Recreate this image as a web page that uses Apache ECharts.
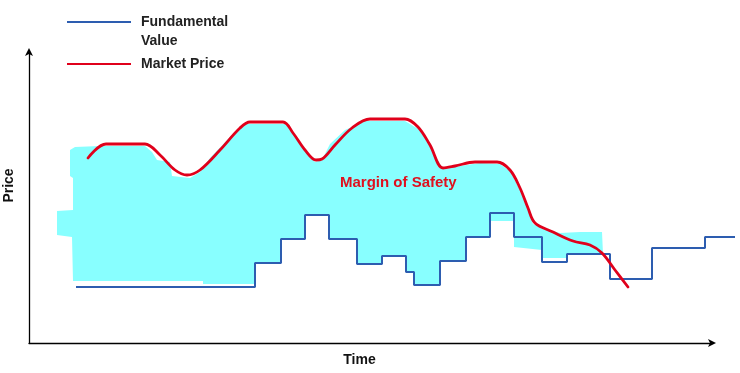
<!DOCTYPE html>
<html>
<head>
<meta charset="utf-8">
<script src="https://cdn.jsdelivr.net/npm/echarts@6/dist/echarts.min.js"></script>
<style>
html,body{margin:0;padding:0;background:#fff;}
#chart{width:740px;height:373px;}
</style>
</head>
<body>
<div id="chart"></div>
<script>
// Fundamental value: step levels [time, price] (each point starts a level)
var fundamentalTime  = [47, 226, 252, 276, 300, 328, 353, 377, 385, 411, 437, 461, 485, 513, 538, 581, 623, 676, 706];
var fundamentalPrice = [56, 80, 104, 128, 104, 79, 87, 71, 58, 82, 106, 130, 106, 81, 89, 64, 95, 106, 106];

// Market price: smooth curve
var marketTime  = [59, 77, 116, 131, 146, 158, 171, 191, 211, 221, 254, 264, 276, 287, 293, 306, 323, 341, 376, 389, 401, 414, 426, 446, 468, 481, 491, 499, 506, 524, 544, 561, 573, 586, 599];
var marketPrice = [185, 199, 199, 188, 173, 168, 173, 193, 215, 221, 221, 210, 193, 183, 184, 198, 215, 224, 224, 216, 198, 175, 177, 181, 181, 173, 155, 135, 120, 111, 102, 98, 90, 73, 56];

// Margin of safety shaded region outline
var marginTime  = [41, 46, 71, 116, 123, 128, 141, 143, 161, 171, 181, 201, 216, 256, 266, 276, 286, 293, 301, 316, 336, 376, 391, 403, 414, 431, 451, 471, 481, 491, 499, 504, 516, 531, 551, 573, 574,
                   538, 538, 513, 513, 485, 485, 461, 461, 437, 437, 411, 411, 385, 385, 377, 377, 353, 353, 328, 328, 300, 300, 276, 276, 252, 252, 226, 226, 174, 174, 44, 43, 28, 28, 44, 44, 41];
var marginPrice = [193, 196, 197, 197, 191, 183, 181, 167, 165, 171, 185, 206, 219, 219, 208, 193, 181, 183, 199, 213, 222, 222, 213, 193, 174, 177, 180, 179, 172, 153, 133, 119, 114, 110, 111, 111, 89,
                   89, 85, 85, 93, 96, 122, 122, 106, 106, 82, 82, 58, 58, 71, 71, 87, 87, 79, 79, 104, 104, 128, 128, 104, 104, 80, 80, 59, 59, 62, 62, 106, 108, 132, 133, 165, 167];

var seriesNames = ['Fundamental', 'Market Price'];
var annotationText = 'Margin of Safety';

function zip(a, b) { return a.map(function (v, i) { return [v, b[i]]; }); }

var chart = echarts.init(document.getElementById('chart'));
var font = '"Liberation Sans", Arial, sans-serif';
var hiddenAxis = { axisLine: { show: false }, axisTick: { show: false }, axisLabel: { show: false }, splitLine: { show: false } };
var arrowLine = { show: true, lineStyle: { color: '#000', width: 1.3 }, symbol: ['none', 'arrow'], symbolSize: [6, 8], symbolOffset: [0, 4] };

chart.setOption({
  animation: false,
  grid: [
    { left: 29, right: 5, top: 52, bottom: 30, containLabel: false, outerBoundsMode: 'none' },
    { left: 29, right: 28, top: 52, bottom: 30, containLabel: false, outerBoundsMode: 'none' }
  ],
  xAxis: [
    Object.assign({ type: 'value', gridIndex: 0, min: 0, max: 706 }, hiddenAxis),
    {
      type: 'value', gridIndex: 1, min: 0, max: 683,
      name: 'Time', nameLocation: 'middle', nameGap: 10,
      nameTextStyle: { fontFamily: font, fontSize: 14, fontWeight: 'bold', color: '#111', padding: [0, 22, 0, 0] },
      axisLine: arrowLine, axisTick: { show: false }, axisLabel: { show: false }, splitLine: { show: false }
    }
  ],
  yAxis: [
    Object.assign({ type: 'value', gridIndex: 0, min: 0, max: 291 }, hiddenAxis),
    {
      type: 'value', gridIndex: 1, min: 0, max: 291,
      name: 'Price', nameLocation: 'middle', nameGap: 13, nameRotate: 90,
      nameTextStyle: { fontFamily: font, fontSize: 14, fontWeight: 'bold', color: '#111', padding: [0, 0, 0, 24] },
      axisLine: arrowLine, axisTick: { show: false }, axisLabel: { show: false }, splitLine: { show: false }
    }
  ],
  legend: {
    orient: 'vertical', left: 67, top: 15, itemGap: 28, padding: 0,
    itemWidth: 64, itemHeight: 2, icon: 'rect', itemStyle: { borderWidth: 0 },
    textStyle: { fontFamily: font, fontSize: 14, fontWeight: 'bold', color: '#222', padding: [0, 0, 0, 5] },
    data: seriesNames
  },
  graphic: [
    { type: 'text', left: 141, top: 34, style: { text: 'Value', font: 'bold 14px ' + font, fill: '#222' } },
    { type: 'text', left: 340, top: 175, z: 10, style: { text: annotationText, font: 'bold 15px ' + font, fill: '#E0101E' } }
  ],
  series: [
    {
      type: 'custom', name: 'Margin', silent: true, z: 1, xAxisIndex: 0, yAxisIndex: 0,
      data: [0],
      renderItem: function (params, api) {
        var pts = marginTime.map(function (t, i) { return api.coord([t, marginPrice[i]]); });
        return { type: 'polygon', shape: { points: pts, smooth: 0 }, style: { fill: '#88FFFF', stroke: 'none' } };
      }
    },
    {
      type: 'line', name: seriesNames[0], step: 'end', z: 3, xAxisIndex: 0, yAxisIndex: 0,
      data: zip(fundamentalTime, fundamentalPrice),
      showSymbol: false, symbol: 'none',
      lineStyle: { color: '#2D5DB0', width: 2 }, itemStyle: { color: '#2D5DB0' }
    },
    {
      type: 'line', name: seriesNames[1], smooth: 0.35, z: 4, xAxisIndex: 0, yAxisIndex: 0,
      data: zip(marketTime, marketPrice),
      showSymbol: false, symbol: 'none',
      lineStyle: { color: '#E0001B', width: 2.8, cap: 'round', join: 'round' }, itemStyle: { color: '#E0001B' }
    }
  ]
});
</script>
</body>
</html>
